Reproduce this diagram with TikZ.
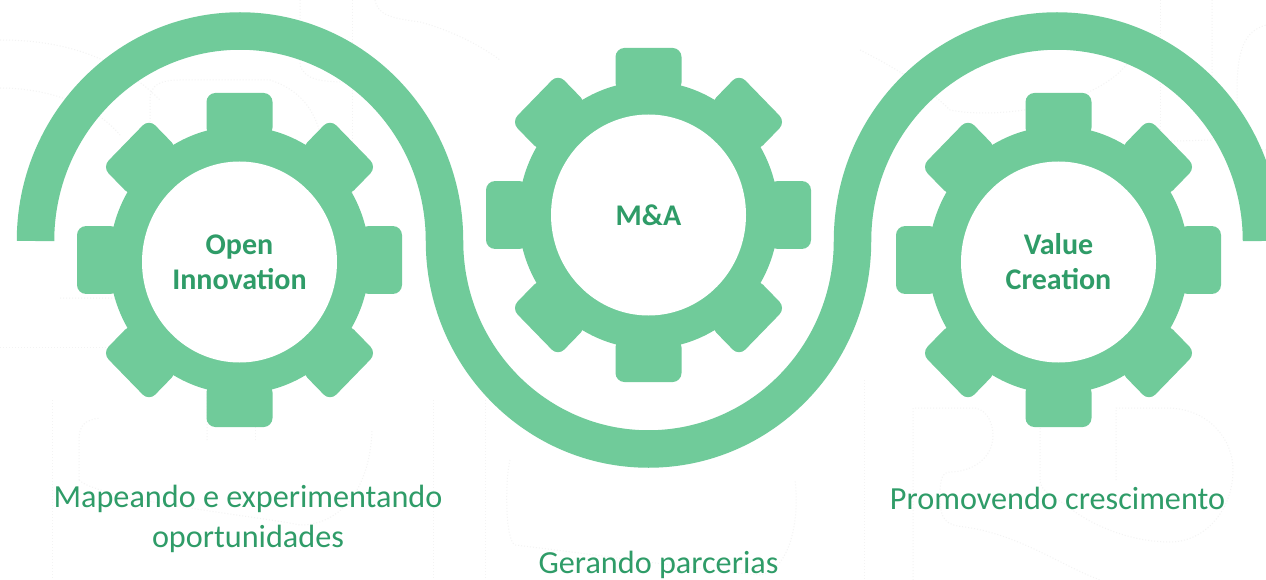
\documentclass[tikz,border=0pt]{standalone}
\usepackage{fontspec}
\usetikzlibrary{shapes.geometric}
\setmainfont{Carlito}
\definecolor{gearg}{HTML}{70CB9A}
\definecolor{textg}{HTML}{2F9C68}
\definecolor{ghost}{HTML}{F3F3F3}
\tikzset{
  x=1pt,y=-1pt,
  wave/.style={draw=gearg,line width=37.5pt,line cap=butt},
  toothv/.style={fill=gearg,rounded corners=9pt},
  hole/.style={ellipse,fill=white,inner sep=0pt,minimum width=195pt,minimum height=201pt,align=center,
    font=\fontsize{30}{35}\selectfont\bfseries,text=textg},
  caption/.style={align=center,font=\fontsize{32.2}{39.5}\selectfont,text=textg},
  watermark/.style={draw=ghost,line width=1pt,dotted},
  pics/gearbody/.style={code={
    \begin{scope}[yscale=1.028]
    \fill[gearg] (0,0) circle (130pt);
    \foreach \a in {0,90,180,270}{
      \fill[toothv,rotate=\a] (-33,-120) rectangle (33,-162.5);}
    \foreach \a in {45,135,225,315}{
      \fill[toothv,rotate=\a] (-33,-120) rectangle (33,-161);}
    \end{scope}
  }},
}
\begin{document}
\begin{tikzpicture}
\useasboundingbox (0,0) rectangle (1266,580);
\fill[white] (0,0) rectangle (1266,580);
\begin{scope}
\clip (0,0) rectangle (1266,580);
% faint watermark outlines
\draw[watermark] (864,380) -- (864,580);
\draw[watermark] (913,580) -- (913,408) -- (975,408) .. controls (988,410) and (993,425) .. (993,435)
  .. controls (993,460) and (970,472) .. (950,472) .. controls (942,472) and (940,480) .. (940,495)
  .. controls (940,520) and (945,525) .. (965,527) .. controls (1020,535) and (1060,565) .. (1100,580);
\draw[watermark] (1116,480) -- (1116,408) -- (1170,408) .. controls (1210,410) and (1233,440) .. (1233,470)
  .. controls (1233,510) and (1205,542) .. (1170,542) .. controls (1130,542) and (1090,525) .. (1066,505);
\draw[watermark] (1040,428) -- (1040,480) .. controls (1040,490) and (1050,495) .. (1066,505);
\draw[watermark] (1266,150) .. controls (1245,150) and (1237,130) .. (1237,90) .. controls (1237,40) and (1250,30) .. (1266,25);
\draw[watermark] (1160,0) -- (1160,140);
\draw[watermark] (1212,0) -- (1212,140) -- (1140,142);
\draw[watermark] (860,50) .. controls (900,70) and (930,90) .. (950,110) .. controls (1000,120) and (1100,105) .. (1130,60);
\draw[watermark] (60,298) -- (195,298) .. controls (203,296) and (205,285) .. (205,260);
\draw[watermark] (207,440) -- (207,310) .. controls (207,302) and (212,298) .. (222,298) -- (327,298);
\draw[watermark] (0,347) -- (110,347);
\draw[watermark] (255,440) -- (255,347) -- (340,347);
\draw[watermark] (0,40) .. controls (50,40) and (110,50) .. (160,100);
\draw[watermark] (0,88) .. controls (40,88) and (90,100) .. (120,135);
\draw[watermark] (150,140) -- (150,100) .. controls (150,85) and (160,80) .. (180,80)
  -- (270,80) .. controls (300,90) and (320,110) .. (325,160);
\draw[watermark] (300,0) -- (300,65) .. controls (305,80) and (320,82) .. (350,82);
\draw[watermark] (352,0) -- (352,240);
\draw[watermark] (375,0) .. controls (378,15) and (390,18) .. (420,22) .. controls (450,30) and (480,45) .. (500,60);
\draw[watermark] (79,480) -- (79,440) .. controls (79,425) and (85,420) .. (100,418);
\draw[watermark] (79,480) .. controls (100,500) and (250,515) .. (300,525) .. controls (340,525) and (370,490) .. (372,430);
\draw[watermark] (52,400) -- (52,580);
\draw[watermark] (433,400) -- (433,580);
\draw[watermark] (485,400) -- (485,580);
\draw[watermark] (510,460) .. controls (505,480) and (505,540) .. (515,545) .. controls (600,555) and (700,570) .. (760,575) .. controls (790,570) and (800,520) .. (795,480);
\end{scope}
\begin{scope}
\clip (0,0) rectangle (1266,580);
\draw[wave] (35.5,241) arc[start angle=180,end angle=0,x radius=204.5pt,y radius=210pt]
  arc[start angle=180,end angle=360,x radius=204pt,y radius=208pt]
  arc[start angle=180,end angle=0,x radius=204.5pt,y radius=210pt];
\end{scope}
\pic at (239.5,260) {gearbody};
\pic at (648.5,215) {gearbody};
\pic at (1058.5,260) {gearbody};
\node[hole] (g1) at (239.5,262) {Open\\Innovation};
\node[hole] (g2) at (648.5,215) {M\&A};
\node[hole] (g3) at (1058.5,262) {Value\\Creation};
\node[caption] (c1) at (248,519) {Mapeando e experimentando\\oportunidades};
\node[caption] (c2) at (658.5,564.5) {Gerando parcerias};
\node[caption] (c3) at (1057.5,498) {Promovendo crescimento};
\end{tikzpicture}
\end{document}
